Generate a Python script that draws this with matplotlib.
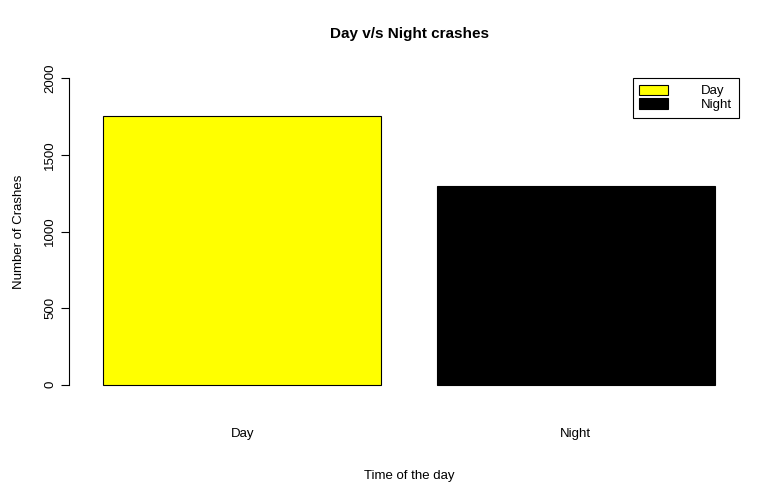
import matplotlib
matplotlib.use("Agg")
import matplotlib.pyplot as plt
from matplotlib.patches import Patch

categories = ["Day", "Night"]
crashes = [1752, 1296]
colors = ["#FFFF00", "#000000"]
yticks = [0, 500, 1000, 1500, 2000]

plt.rcParams["font.family"] = ["Liberation Sans", "DejaVu Sans"]
fig = plt.figure(figsize=(7.8, 4.84), dpi=100)
ax = fig.add_axes([79 / 780, 87 / 484, 660 / 780, 331 / 484])

lefts = [0.2 + 1.2 * i for i in range(len(categories))]
ax.bar(lefts, crashes, width=1.0, align="edge", color=colors, edgecolor="black", linewidth=0.8)
ax.set_xlim(0.2 - 0.088, 2.4 + 0.088)
ax.set_ylim(-80, 2080)

for s in ["top", "right", "bottom"]:
    ax.spines[s].set_visible(False)
ax.spines["left"].set_bounds(0, 2000)
ax.spines["left"].set_position(("outward", 7))
ax.set_yticks(yticks)
ax.set_yticklabels([str(v) for v in yticks], rotation=90, va="center", fontsize=9.5)
ax.set_xticks([l + 0.5 for l in lefts])
ax.set_xticklabels(categories, fontsize=9.5)
ax.tick_params(axis="x", length=0, pad=22)
ax.tick_params(axis="y", length=6)

ax.set_title("Day v/s Night crashes", fontweight="bold", fontsize=11, pad=20)
ax.set_xlabel("Time of the day", fontsize=9.5, labelpad=22)
ax.set_ylabel("Number of Crashes", fontsize=9.5, labelpad=14)

handles = [Patch(facecolor=c, edgecolor="black", linewidth=0.8) for c in colors]
leg = ax.legend(handles, categories, loc="upper right", bbox_to_anchor=(1.0, 0.964),
                fancybox=False, edgecolor="black", framealpha=1, fontsize=9.5,
                handlelength=2.2, handleheight=0.8, handletextpad=2.5,
                borderpad=0.5, labelspacing=0.1, borderaxespad=0)
leg.get_frame().set_linewidth(0.8)
leg.get_frame().set_width(208)

fig.savefig("out.png", dpi=100)
